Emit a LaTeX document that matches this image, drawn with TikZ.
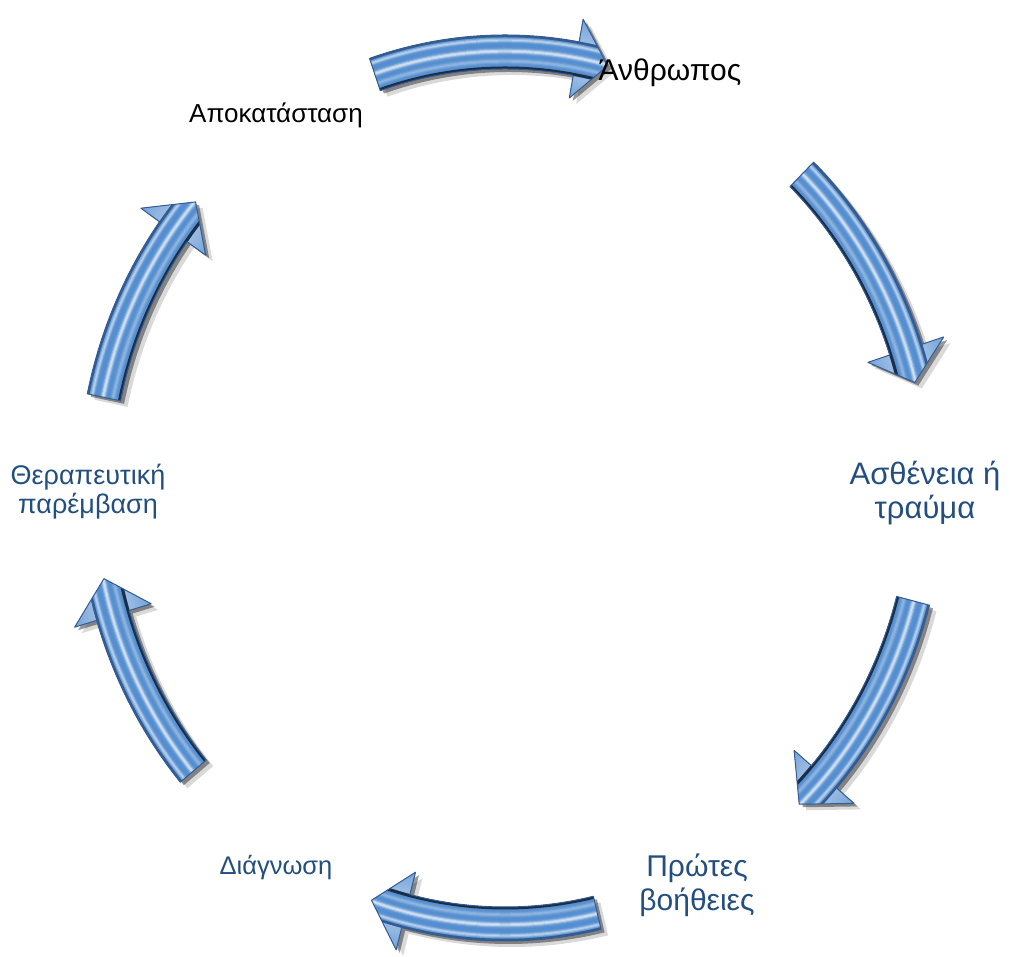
\documentclass[tikz,border=0pt]{standalone}
\usepackage{fontspec}
\setmainfont{Liberation Sans}
\definecolor{txtblue}{RGB}{35,78,128}
\definecolor{abase}{RGB}{84,142,208}
\definecolor{aedge}{RGB}{52,92,145}
\definecolor{adark}{RGB}{28,45,70}
\newcommand\arrowpath[3]{(#1:427 and 453) arc[start angle=#1,end angle=#2,x radius=427,y radius=453] -- (#2:450 and 476) -- (#3:410 and 436) -- (#2:370 and 396) -- (#2:393 and 419) arc[start angle=#2,end angle=#1,x radius=393,y radius=419] -- cycle}
\newcommand\cyclearrow[3]{%
  \fill[black,opacity=.15,shift={(7,-6)}] \arrowpath{#1}{#2}{#3};
  \fill[black,opacity=.40,shift={(3.5,-3)}] \arrowpath{#1}{#2}{#3};
  \fill[abase] \arrowpath{#1}{#2}{#3};
  \begin{scope}
    \clip \arrowpath{#1}{#2}{#3};
    \foreach \o in {-40,...,40}{
      \pgfmathsetmacro\wh{abs(\o)>17 ? 42-1.0*(abs(\o)-17) : min(88,75*exp(-((\o-1)/2.2)^2)+60*exp(-((\o-12)/1.8)^2)+35*exp(-((\o+9)/2.2)^2))}
      \pgfmathsetmacro\pp{100-\wh}
      \draw[line width=1.4, abase!\pp!white] (0,0) ellipse [x radius=410+\o, y radius=436+\o];
    }
    \draw[line width=2.5, aedge] (0,0) ellipse [x radius=426, y radius=452];
    \draw[line width=3, adark] (0,0) ellipse [x radius=394, y radius=420];
  \end{scope}
  \draw[aedge,line width=1,line join=round] \arrowpath{#1}{#2}{#3};
}
\tikzset{lbl/.style={align=center,text=txtblue,inner sep=0pt}}
\begin{document}
\begin{tikzpicture}[x=1pt,y=1pt]
\useasboundingbox (0,0) rectangle (1010,957);
\begin{scope}[shift={(505,469)}]
  \cyclearrow{108.5}{80}{75.5}
  \cyclearrow{-77}{-104}{-109}
  \cyclearrow{-139.5}{-163}{-168}
  \cyclearrow{168}{144}{139}
\end{scope}
\begin{scope}[shift={(517,469)}]
  \cyclearrow{46}{18.5}{14}
  \cyclearrow{-15}{-41.5}{-46.5}
\end{scope}
\node[lbl,text=black,font=\fontsize{30}{34}\selectfont] (anthropos) at (670,884) {Άνθρωπος};
\node[lbl,font=\fontsize{31}{34}\selectfont] (asthenia) at (925,464) {Ασθένεια ή\\τραύμα};
\node[lbl,font=\fontsize{30}{34}\selectfont] (protes) at (697,72) {Πρώτες\\βοήθειες};
\node[lbl,font=\fontsize{25.5}{28}\selectfont] (diagnosi) at (276,89) {Διάγνωση};
\node[lbl,font=\fontsize{27}{29}\selectfont] (therapeia) at (88,465) {Θεραπευτική\\παρέμβαση};
\node[lbl,text=black,font=\fontsize{26}{28}\selectfont] (apokat) at (276,842) {Αποκατάσταση};
\end{tikzpicture}
\end{document}
